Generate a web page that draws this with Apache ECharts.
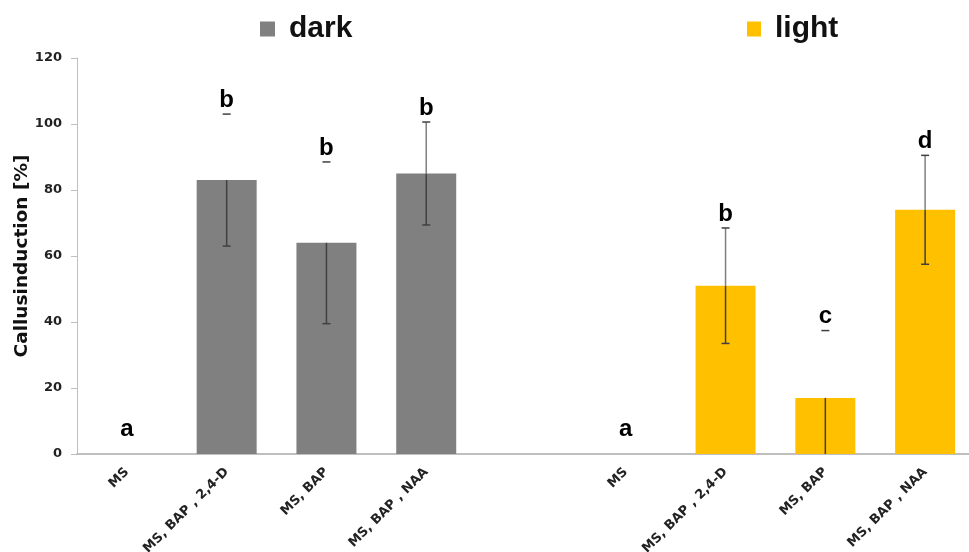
<!DOCTYPE html>
<html>
<head>
<meta charset="utf-8">
<script src="https://cdn.jsdelivr.net/npm/echarts@6/dist/echarts.min.js"></script>
<style>html,body{margin:0;padding:0;background:#fff;overflow:hidden;width:969px;height:552px}#c{width:977px;height:552px}</style>
</head>
<body>
<div id="c"></div>
<script>
const categories = ['MS', 'MS, BAP , 2,4-D', 'MS, BAP', 'MS, BAP , NAA', '', 'MS', 'MS, BAP , 2,4-D', 'MS, BAP', 'MS, BAP , NAA'];
const yTicks = [0, 20, 40, 60, 80, 100, 120];
const darkValues = [0, 83, 64, 85, '-', '-', '-', '-', '-'];
const lightValues = ['-', '-', '-', '-', '-', 0, 51, 17, 74];
const darkErr = [0, 20, 24.5, 15.6];
const lightErr = [0, 17.5, 20.4, 16.5];
const darkLetters = ['a', 'b', 'b', 'b'];
const lightLetters = ['a', 'b', 'c', 'd'];
const darkUpperShown = [0, 0, 0, 1];
const lightUpperShown = [0, 1, 0, 1];

const errPoints = [];
const errLetters = [];
const errUpper = [];
for (let i = 0; i < 4; i++) {
  errPoints.push([i, darkValues[i], darkErr[i]]);
  errLetters.push(darkLetters[i]);
  errUpper.push(darkUpperShown[i]);
}
for (let i = 0; i < 4; i++) {
  errPoints.push([i + 5, lightValues[i + 5], lightErr[i]]);
  errLetters.push(lightLetters[i]);
  errUpper.push(lightUpperShown[i]);
}

const chart = echarts.init(document.getElementById('c'), null, {renderer: 'canvas'});
const legendText = {fontSize: 30, fontWeight: 'bold', fontFamily: 'Liberation Sans', color: '#111', padding: [0, 0, 0, 9]};
chart.setOption({
  animation: false,
  backgroundColor: '#fff',
  legend: [
    {data: ['dark'], left: 260, top: 14, padding: 0, icon: 'rect', itemWidth: 15, itemHeight: 15, textStyle: legendText},
    {data: ['light'], left: 747, top: 14, padding: 0, icon: 'rect', itemWidth: 14, itemHeight: 15, textStyle: legendText}
  ],
  grid: {left: 77, top: 58, right: 2, height: 396, outerBoundsMode: 'none', containLabel: false},
  xAxis: {
    type: 'category',
    data: categories,
    axisLine: {lineStyle: {color: '#bfbfbf', width: 2}},
    axisTick: {show: false},
    axisLabel: {interval: 0, rotate: 45, fontSize: 13, fontWeight: 'bold', fontFamily: 'DejaVu Sans', color: '#222', margin: 16}
  },
  yAxis: {
    type: 'value',
    min: yTicks[0],
    max: yTicks[yTicks.length - 1],
    interval: 20,
    name: 'Callusinduction [%]',
    nameLocation: 'middle',
    nameGap: 45,
    nameMoveOverlap: false,
    nameTextStyle: {fontSize: 18.5, fontWeight: 'bold', fontFamily: 'DejaVu Sans', color: '#111'},
    axisLine: {show: true, lineStyle: {color: '#bfbfbf', width: 1}},
    axisTick: {show: true, length: 6, lineStyle: {color: '#bfbfbf'}},
    splitLine: {show: false},
    axisLabel: {fontSize: 13, fontWeight: 'bold', fontFamily: 'DejaVu Sans', color: '#222', margin: 15}
  },
  series: [
    {name: 'dark', type: 'bar', data: darkValues, barWidth: 60, barGap: '-100%', itemStyle: {color: '#808080'}},
    {name: 'light', type: 'bar', data: lightValues, barWidth: 60, barGap: '-100%', itemStyle: {color: '#FFC000'}},
    {
      type: 'custom',
      data: errPoints,
      z: 10,
      renderItem: function (params, api) {
        const i = api.value(0), v = api.value(1), e = api.value(2);
        const idx = params.dataIndex;
        const p = api.coord([i, v]);
        const x = p[0], yv = p[1];
        const yHi = api.coord([i, v + e])[1];
        const yLo = api.coord([i, Math.max(v - e, 0)])[1];
        const children = [];
        if (e > 0) {
          children.push({type: 'line', shape: {x1: x, y1: yv, x2: x, y2: yLo}, style: {stroke: '#404040', lineWidth: 1.5}});
          if (errUpper[idx]) {
            children.push({type: 'line', shape: {x1: x, y1: yv, x2: x, y2: yHi}, style: {stroke: '#7f7f7f', lineWidth: 1.5}});
          }
          children.push({type: 'line', shape: {x1: x - 4, y1: yHi, x2: x + 4, y2: yHi}, style: {stroke: '#404040', lineWidth: 1.5}});
          if (v - e > 0) {
            children.push({type: 'line', shape: {x1: x - 4, y1: yLo, x2: x + 4, y2: yLo}, style: {stroke: '#404040', lineWidth: 1.5}});
          }
        }
        const gap = e > 0 ? 2 : 13;
        children.push({type: 'text', x: x, y: yHi - gap, style: {text: errLetters[idx], fontSize: 24, fontWeight: 'bold', fontFamily: 'Liberation Sans', fill: '#000', align: 'center', verticalAlign: 'bottom'}});
        return {type: 'group', children: children};
      }
    }
  ]
});
</script>
</body>
</html>
